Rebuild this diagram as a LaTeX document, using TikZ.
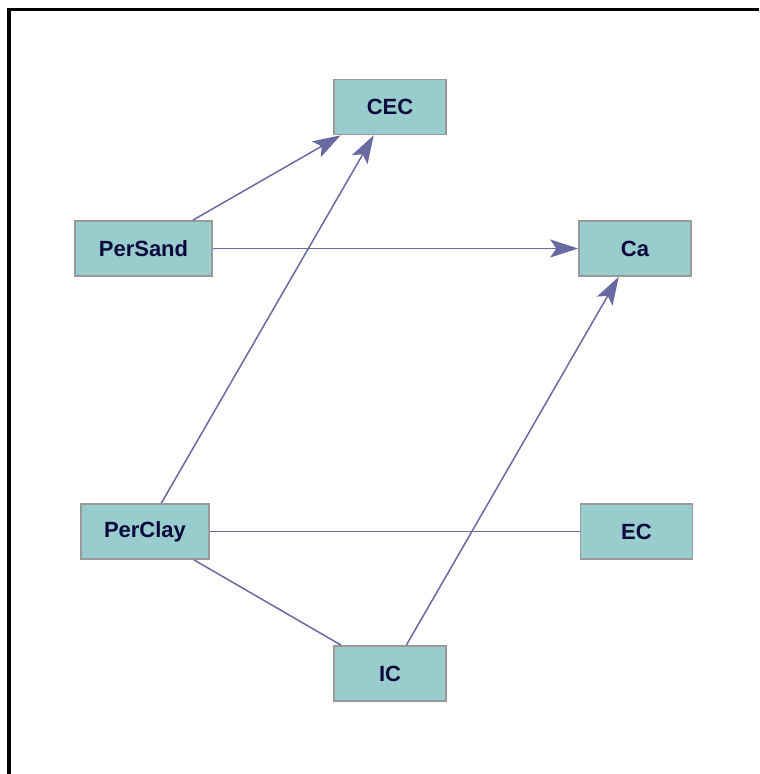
\documentclass[tikz,border=0pt]{standalone}
\usepackage{fontspec}
\setsansfont{Liberation Sans}
\usepackage{xcolor}
\usepackage{tikz}
\usetikzlibrary{positioning, arrows.meta}

\definecolor{boxfill}{HTML}{99CCCC}
\definecolor{boxline}{HTML}{9A9A9A}
\definecolor{linkcol}{HTML}{6A6AA2}
\definecolor{labelcol}{HTML}{0A0A3C}

\begin{document}
\begin{tikzpicture}[x=0.5pt,y=-0.5pt,on grid,
                    main node/.style={rectangle,draw=boxline,fill=boxfill,line width=0.8pt,
                      minimum width=56pt,minimum height=27.5pt,inner sep=0pt,
                      text=labelcol,font=\sffamily\bfseries\fontsize{11pt}{13pt}\selectfont},
                    link/.style={draw=linkcol,line width=0.75pt},
                    arc/.style={link,-{Stealth[length=14pt,width=9pt,inset=3pt]}}]

 \useasboundingbox (0,0) rectangle (759,774);
 \draw[line width=1.75pt] (9.2,774) -- (9.2,9.5) -- (759,9.5);

 \node[main node] (cec) at (390,107) {CEC};
 \node[main node,minimum width=68.5pt] (persand) [below left=70.75pt and 123.25pt of cec] {PerSand};
 \node[main node] (ca) [below right=70.75pt and 122.5pt of cec] {Ca};
 \node[main node,minimum width=64pt] (perclay) [below=141.5pt of persand, xshift=0.75pt] {PerClay};
 \node[main node] (ec) [below=141.5pt of ca, xshift=0.75pt] {EC};
 \node[main node] (ic) [below=283.25pt of cec] {IC};

 \path
 (persand) edge[arc] (cec)
           edge[arc] (ca)
 (perclay) edge[arc] (cec)
           edge[link] (ec)
           edge[link] (ic)
 (ic) edge[arc] (ca);

\end{tikzpicture}
\end{document}
